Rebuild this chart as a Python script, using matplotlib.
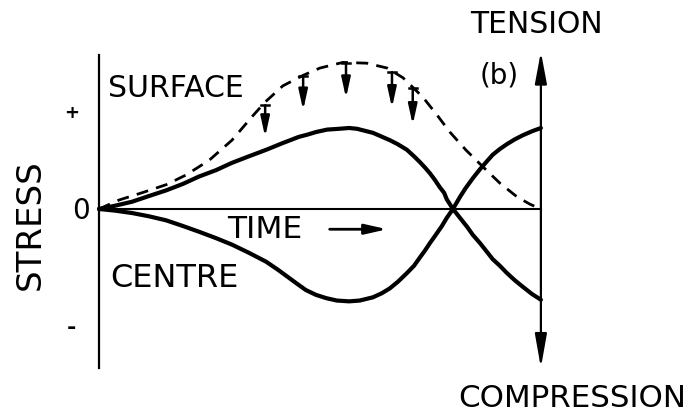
import matplotlib
matplotlib.use("Agg")
import matplotlib.pyplot as plt

# Stress history sketch: surface vs centre during quench, time 0..10, stress in arbitrary units
surface_t = [0.00, 0.36, 0.75, 1.13, 1.52, 1.90, 2.26, 2.65, 3.01, 3.39, 3.78, 4.14,
             4.52, 4.73, 4.91, 5.16, 5.43, 5.66, 5.84, 6.20, 6.58, 6.76, 6.97, 7.13,
             7.26, 7.38, 7.49, 7.60, 7.71, 7.81, 7.87, 7.94, 8.01, 8.17, 8.33, 8.46,
             8.62, 8.78, 8.91, 9.07, 9.23, 9.41, 9.59, 9.80, 10.00]
surface_s = [0.00, 0.04, 0.09, 0.16, 0.23, 0.31, 0.40, 0.48, 0.57, 0.65, 0.73, 0.81,
             0.89, 0.92, 0.95, 0.98, 0.99, 1.00, 0.99, 0.94, 0.85, 0.80, 0.73, 0.65,
             0.58, 0.51, 0.44, 0.36, 0.27, 0.20, 0.12, 0.06, 0.00, -0.11, -0.22, -0.32,
             -0.42, -0.53, -0.62, -0.70, -0.79, -0.88, -0.96, -1.05, -1.12]

centre_t = [0.00, 0.36, 0.75, 1.13, 1.52, 1.90, 2.26, 2.65, 3.01, 3.39, 3.78, 4.05,
            4.30, 4.50, 4.68, 4.91, 5.14, 5.38, 5.66, 5.90, 6.20, 6.40, 6.58, 6.76,
            6.97, 7.13, 7.26, 7.38, 7.49, 7.62, 7.76, 7.87, 8.01, 8.17, 8.30, 8.46,
            8.62, 8.78, 8.91, 9.07, 9.23, 9.41, 9.59, 9.80, 10.00]
centre_s = [0.00, -0.02, -0.05, -0.09, -0.14, -0.21, -0.28, -0.36, -0.44, -0.54, -0.65, -0.75,
            -0.85, -0.93, -1.00, -1.06, -1.10, -1.13, -1.14, -1.13, -1.09, -1.04, -0.98, -0.90,
            -0.79, -0.70, -0.60, -0.51, -0.42, -0.32, -0.21, -0.11, 0.00, 0.15, 0.26, 0.38,
            0.49, 0.59, 0.67, 0.74, 0.80, 0.86, 0.91, 0.96, 1.00]

# unrelaxed surface stress (dashed)
elastic_t = [0.00, 0.45, 0.97, 1.52, 1.97, 2.49, 3.01, 3.48, 3.76, 4.16, 4.62, 5.00, 5.52,
             6.06, 6.52, 6.88, 7.33, 7.65, 7.94, 8.30, 8.69, 9.07, 9.46, 9.75, 10.00]
elastic_s = [0.00, 0.11, 0.20, 0.30, 0.42, 0.60, 0.85, 1.15, 1.32, 1.52, 1.65, 1.74, 1.81,
             1.80, 1.74, 1.62, 1.38, 1.16, 0.95, 0.73, 0.52, 0.32, 0.15, 0.06, 0.00]

# relaxation arrows hanging from the dashed curve
relax_t = [3.76, 4.62, 5.59, 6.63, 7.10]
relax_top = [1.28, 1.64, 1.80, 1.69, 1.49]
relax_tip = [0.89, 1.22, 1.37, 1.25, 1.04]

fig = plt.figure(figsize=(6.96, 4.18), dpi=100)
ax = fig.add_axes([0, 0, 1, 1])
ax.set_xlim(-2.24, 13.51)
ax.set_ylim(-2.58, 2.58)
ax.axis("off")

k = "black"

# axes
ax.plot([0, 0], [1.90, -1.96], color=k, lw=1.6)
ax.plot([0, 10], [0, 0], color=k, lw=1.5)
for tip, hl in [(1.94, 1.6), (-1.96, 1.7)]:
    ax.annotate("", xy=(10, tip), xytext=(10, 0),
                arrowprops=dict(arrowstyle=f"-|>,head_length={hl},head_width=0.3",
                                mutation_scale=12, lw=1.6, color=k,
                                shrinkA=0, shrinkB=0))

# curves
ax.plot(elastic_t, elastic_s, color=k, lw=2.0, dashes=(4.3, 3.0))
ax.plot(surface_t, surface_s, color=k, lw=3.0, solid_capstyle="round",
        solid_joinstyle="round")
ax.plot(centre_t, centre_s, color=k, lw=3.0, solid_capstyle="round",
        solid_joinstyle="round")

for t, top, tip in zip(relax_t, relax_top, relax_tip):
    ax.plot([t - 0.09, t + 0.09], [top, top], color=k, lw=1.8)
    ax.annotate("", xy=(t, tip), xytext=(t, top),
                arrowprops=dict(arrowstyle="-|>,head_length=1.0,head_width=0.22",
                                mutation_scale=12, lw=1.8, color=k,
                                shrinkA=0, shrinkB=0))

# time arrow
ax.annotate("", xy=(6.52, -0.25), xytext=(5.22, -0.25),
            arrowprops=dict(arrowstyle="-|>,head_length=1.1,head_width=0.25",
                            mutation_scale=12, lw=2.0, color=k,
                            shrinkA=0, shrinkB=0))

font = "DejaVu Sans"
ax.text(0.20, 1.385, "SURFACE", fontsize=21.5, family=font, va="baseline")
ax.text(0.25, -0.96, "CENTRE", fontsize=23, family=font, va="baseline")
ax.text(2.90, -0.36, "TIME", fontsize=22.5, family=font, va="baseline")
ax.text(8.39, 2.17, "TENSION", fontsize=21.5, family=font, va="baseline")
ax.text(8.62, 1.55, "(b)", fontsize=20, family=font, va="baseline")
ax.text(8.12, -2.44, "COMPRESSION", fontsize=22.3, family=font, va="baseline")
ax.text(-1.33, -0.19, "STRESS", fontsize=24.5, family=font, rotation=90,
        rotation_mode="anchor", ha="center", va="baseline")
ax.text(-0.41, -0.12, "0", fontsize=20, family=font, ha="center", va="baseline")
ax.text(-0.61, 1.19, "+", fontsize=13, family=font, fontweight="bold",
        ha="center", va="center")
ax.text(-0.63, -1.47, "-", fontsize=16, family=font, fontweight="bold",
        ha="center", va="center")

fig.savefig("out.png", dpi=100, facecolor="white")
